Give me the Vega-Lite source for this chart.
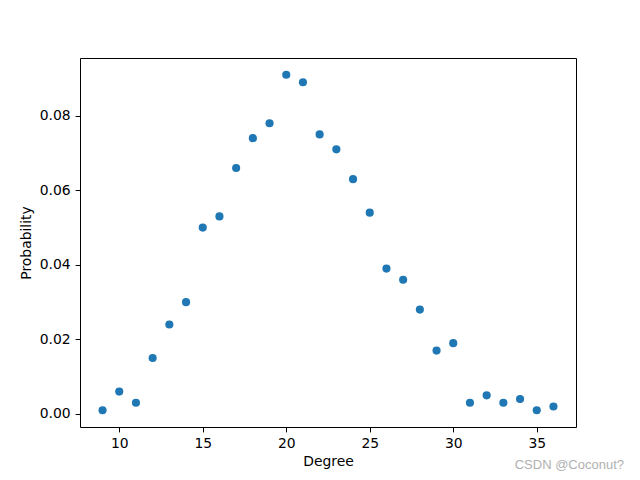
{
  "$schema": "https://vega.github.io/schema/vega-lite/v6.json",
  "width": 496,
  "height": 369,
  "autosize": {"type": "none"},
  "padding": {"left": 80, "top": 58, "right": 64, "bottom": 53},
  "background": "white",
  "title": {
    "text": "CSDN @Coconut?",
    "orient": "bottom",
    "anchor": "end",
    "dx": 48,
    "dy": -12,
    "offset": 2,
    "fontSize": 13,
    "fontWeight": "normal",
    "font": "Liberation Sans",
    "color": "#b0b0b0"
  },
  "config": {
    "view": {"stroke": "black", "strokeWidth": 1},
    "axis": {
      "grid": false,
      "domain": false,
      "tickColor": "black",
      "tickSize": 4.9,
      "labelFont": "DejaVu Sans",
      "labelFontSize": 13.9,
      "labelColor": "black",
      "titleFont": "DejaVu Sans",
      "titleFontSize": 13.9,
      "titleFontWeight": "normal",
      "titleColor": "black",
      "labelPadding": 4.9
    }
  },
  "data": {
    "values": [
      {"degree": 9, "p": 0.001},
      {"degree": 10, "p": 0.006},
      {"degree": 11, "p": 0.003},
      {"degree": 12, "p": 0.015},
      {"degree": 13, "p": 0.024},
      {"degree": 14, "p": 0.030},
      {"degree": 15, "p": 0.050},
      {"degree": 16, "p": 0.053},
      {"degree": 17, "p": 0.066},
      {"degree": 18, "p": 0.074},
      {"degree": 19, "p": 0.078},
      {"degree": 20, "p": 0.091},
      {"degree": 21, "p": 0.089},
      {"degree": 22, "p": 0.075},
      {"degree": 23, "p": 0.071},
      {"degree": 24, "p": 0.063},
      {"degree": 25, "p": 0.054},
      {"degree": 26, "p": 0.039},
      {"degree": 27, "p": 0.036},
      {"degree": 28, "p": 0.028},
      {"degree": 29, "p": 0.017},
      {"degree": 30, "p": 0.019},
      {"degree": 31, "p": 0.003},
      {"degree": 32, "p": 0.005},
      {"degree": 33, "p": 0.003},
      {"degree": 34, "p": 0.004},
      {"degree": 35, "p": 0.001},
      {"degree": 36, "p": 0.002}
    ]
  },
  "mark": {"type": "point", "filled": true, "opacity": 1, "color": "#1f77b4", "size": 66},
  "encoding": {
    "x": {
      "field": "degree",
      "type": "quantitative",
      "scale": {"domain": [7.65, 37.35], "nice": false, "zero": false},
      "axis": {"title": "Degree", "values": [10, 15, 20, 25, 30, 35], "titlePadding": 4}
    },
    "y": {
      "field": "p",
      "type": "quantitative",
      "scale": {"domain": [-0.0035, 0.0955], "nice": false, "zero": false},
      "axis": {"title": "Probability", "values": [0, 0.02, 0.04, 0.06, 0.08], "format": ".2f", "titlePadding": 6}
    }
  }
}
